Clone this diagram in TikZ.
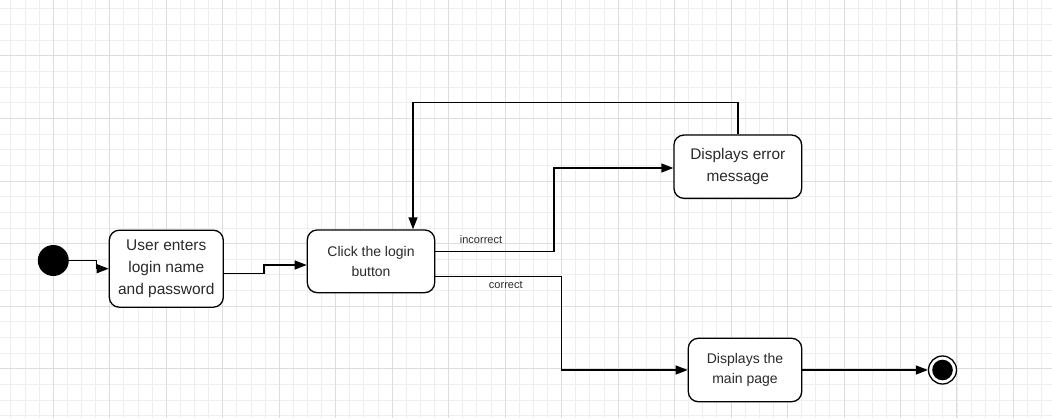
\documentclass[tikz,border=0pt]{standalone}
\usepackage{fontspec}
\setmainfont{Liberation Sans}
\usetikzlibrary{arrows.meta,calc}
\definecolor{txt}{HTML}{2A2A2A}
\definecolor{gminorc}{HTML}{EEEEEE}
\definecolor{gmajorc}{HTML}{DDDDDD}
\begin{document}
\begin{tikzpicture}[x=1pt,y=-1pt,
  box/.style={draw=black, line width=1.3pt, rounded corners=10pt, fill=white, align=center, text=txt, inner sep=0pt},
  conn/.style={line width=1.4pt, -{Triangle[length=12pt,width=9pt]}},
  lbl/.style={font=\fontsize{11}{13}\selectfont, text=txt, inner sep=0pt},
  gminor/.style={draw=gminorc, line width=0.9pt},
  gmajor/.style={draw=gmajorc, line width=1pt}]
\useasboundingbox (0,0) rectangle (1052,418);
\fill[white] (0,0) rectangle (1052,418);
% grid
\foreach \k in {-3,...,71} \draw[gminor] ({53.3+14.12*\k},0) -- ({53.3+14.12*\k},418);
\foreach \k in {-3,...,23} \draw[gminor] (0,{55.7+15.66*\k}) -- (1052,{55.7+15.66*\k});
\foreach \k in {-1,...,17} \draw[gmajor] ({53.3+56.48*\k},0) -- ({53.3+56.48*\k},418);
\foreach \k in {-1,...,6} \draw[gmajor] (0,{55.7+62.65*\k}) -- (1052,{55.7+62.65*\k});

% nodes
\node[circle, fill=black, minimum size=31pt, inner sep=0pt] (start) at (53.3,260.5) {};
\node[box, minimum width=114pt, minimum height=77pt, font=\fontsize{15.5}{21.7}\selectfont] (b1) at (166.3,268.7) {User enters\\login name\\and password};
\node[box, minimum width=127.4pt, minimum height=62.7pt, font=\fontsize{14}{20}\selectfont] (b2) at (371,261.3) {Click the login\\button};
\node[box, minimum width=127.7pt, minimum height=63.3pt, font=\fontsize{15.4}{21.7}\selectfont] (err) at (737.8,166.7) {Displays error\\message};
\node[box, minimum width=113.4pt, minimum height=63.4pt, font=\fontsize{14}{20.5}\selectfont] (main) at (745,370) {Displays the\\main page};
\node[circle, draw=black, line width=1.3pt, fill=white, minimum size=28pt, inner sep=0pt] (end) at (942.5,370) {};
\fill[black] (end.center) circle (10.3);

% connectors
\draw[conn] (start.east) -- ++(27.4,0) |- (b1.west);
\draw[conn] ([yshift=-4.6pt]b1.east) -- ++(40,0) |- ([yshift=-3.7pt]b2.west);
\draw[conn] ([yshift=9.6pt]b2.east) -- ++(118.6,0) |- ([yshift=-1.3pt]err.west);
\draw[conn] ([yshift=-15.4pt]b2.east) -- ++(126,0) |- (main.west);
\draw[conn] (err.north) -- ++(0,-31.7) -| ([xshift=42pt]b2.north);
\draw[conn] (main.east) -- (end.west);

% labels
\node[lbl] (linc) at (481,239.5) {incorrect};
\node[lbl] (lcor) at (505.8,285) {correct};
\end{tikzpicture}
\end{document}
